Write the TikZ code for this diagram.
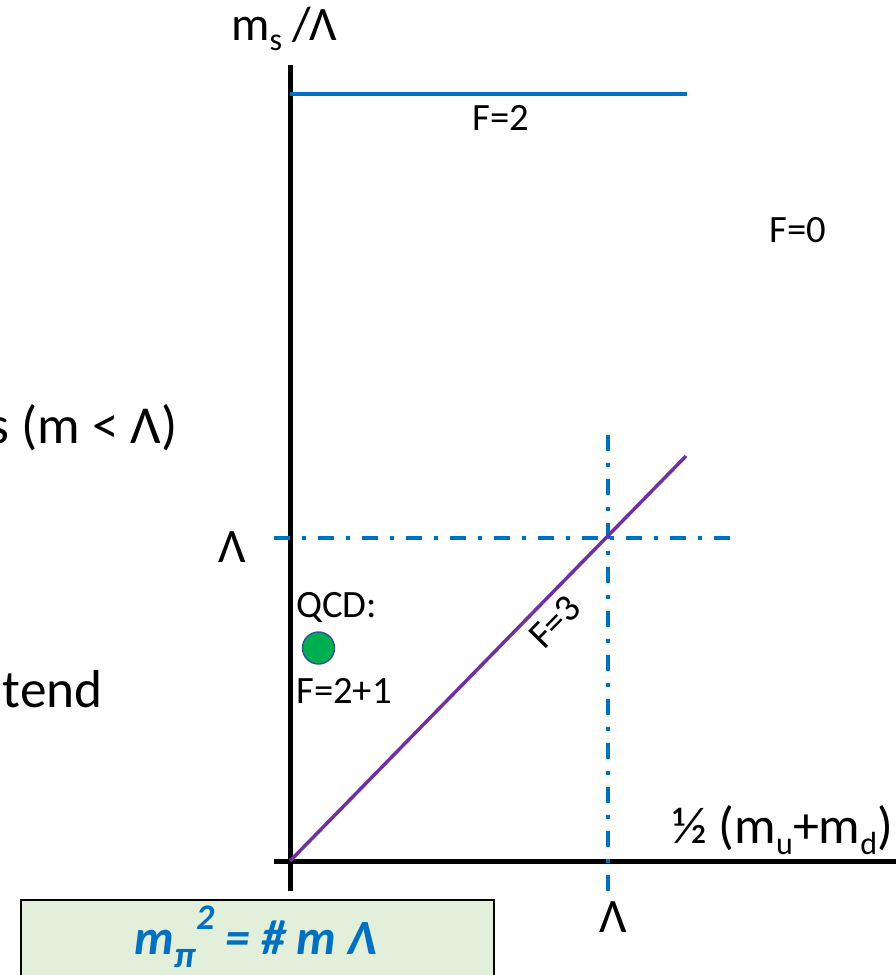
\documentclass[tikz,border=0pt]{standalone}
\usepackage{fontspec}
\setmainfont{Carlito}
\definecolor{lineblue}{HTML}{0070C0}
\definecolor{linepurple}{HTML}{7030A0}
\definecolor{qcdgreen}{HTML}{00B050}
\definecolor{qcdedge}{HTML}{2F5597}
\definecolor{boxgreen}{HTML}{E2EFDA}
\newcommand\lowsub[1]{\raisebox{-0.22em}{\fontsize{24}{28}\selectfont #1}}
\tikzset{
  lbl/.style={inner sep=0pt, text=black},
  small/.style={lbl, font=\fontsize{29}{34}\selectfont},
  axlbl/.style={lbl, font=\fontsize{36}{42}\selectfont},
  big/.style={lbl, font=\fontsize{40}{46}\selectfont},
  axisline/.style={line width=3.75pt, black},
  dashdot/.style={line width=3pt, lineblue, dash pattern=on 12pt off 9pt on 3pt off 9pt},
}
\begin{document}
\begin{tikzpicture}[x=0.75pt,y=-0.75pt]
\useasboundingbox (0,0) rectangle (896,975);

% axes
\coordinate (vtop) at (290,65);
\coordinate (vbot) at (290,891);
\coordinate (hleft) at (274,861);
\coordinate (hright) at (900,861);
\coordinate (origin) at (290,861);
\draw[axisline] (vtop) -- (vbot);
\draw[axisline] (hleft) -- (hright);

% F=2 line
\coordinate (f2a) at (290,94);
\coordinate (f2b) at (687,94);
\draw[line width=3pt, lineblue] (f2a) -- (f2b);

% Lambda dash-dot lines
\coordinate (lh1) at (274,538);
\coordinate (lh2) at (735,538);
\coordinate (lv1) at (608,435);
\coordinate (lv2) at (608,891);
\draw[dashdot] (lh1) -- (lh2);
\draw[dashdot] (lv1) -- (lv2);

% F=3 line
\coordinate (f3end) at (686,456);
\draw[line width=2.6pt, linepurple] (origin) -- (f3end);

% labels
\node[big, anchor=base east] (leftA) at (178,443) {s (m < Λ)};
\node[big, anchor=base east] (leftB) at (103,707) {tend};
\node[axlbl, anchor=base west] (ylab) at (231,40) {m\lowsub{s} /Λ};
\node[axlbl, anchor=base west] (xlab) at (672,843) {\fontsize{39}{44}\selectfont ½ (m\lowsub{u}+m\lowsub{d})};
\node[axlbl, anchor=base] (lamy) at (232,562) {Λ};
\node[axlbl, anchor=base] (lamx) at (613,932) {Λ};
\node[small, anchor=base] (tf2) at (501,130) {F=2};
\node[small, anchor=base] (tf0) at (798,242) {F=0};
\node[small, rotate=45.6] (tf3) at (555,622) {F=3};
\node[small, anchor=base west] (qcd) at (296,617) {QCD:};
\node[small, anchor=base west] (qcdf) at (296,703) {F=2+1};
\node[circle, fill=qcdgreen, draw=qcdedge, line width=1.1pt, minimum size=24pt, inner sep=0pt] (dot) at (318.5,648) {};

% formula box
\node[draw=black, line width=1.2pt, fill=boxgreen, anchor=north west, minimum width=354.75pt, minimum height=75pt, inner sep=0pt] (box) at (20,899) {};
\node[lbl, anchor=base, text=lineblue, font=\fontsize{37}{42}\selectfont\bfseries\itshape] (formula) at (256,954) {m\raisebox{-0.28em}{\fontsize{28}{30}\selectfont π}\raisebox{0.5em}{\fontsize{27}{30}\selectfont 2} = \# m Λ};
\end{tikzpicture}
\end{document}
